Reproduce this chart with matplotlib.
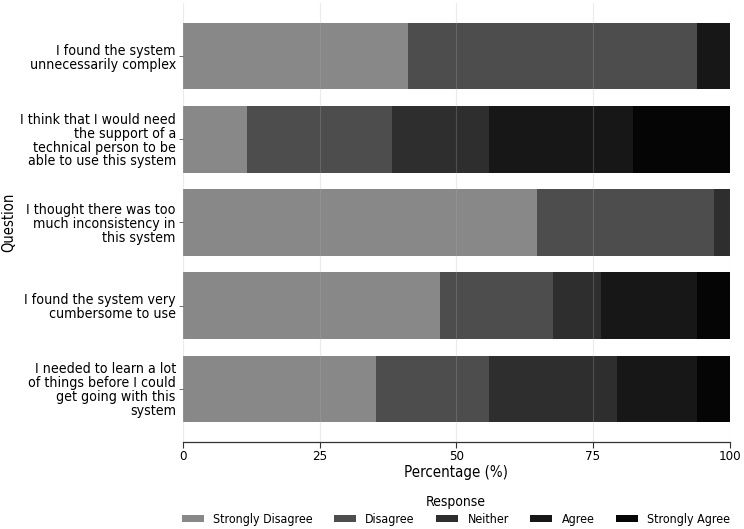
import matplotlib
matplotlib.use("Agg")
import matplotlib.pyplot as plt
import numpy as np

plt.rcParams['font.family'] = ['DejaVu Sans']
plt.rcParams['font.stretch'] = 'condensed'

questions = [
    "I found the system\nunnecessarily complex",
    "I think that I would need\nthe support of a\ntechnical person to be\nable to use this system",
    "I thought there was too\nmuch inconsistency in\nthis system",
    "I found the system very\ncumbersome to use",
    "I needed to learn a lot\nof things before I could\nget going with this\nsystem",
]
responses = ["Strongly Disagree", "Disagree", "Neither", "Agree", "Strongly Agree"]
colors = ["#888888", "#4d4d4d", "#2e2e2e", "#171717", "#050505"]

strongly_disagree = [41.2, 11.8, 64.7, 47.1, 35.3]
disagree = [52.9, 26.5, 32.4, 20.6, 20.6]
neither = [0.0, 17.6, 2.9, 8.8, 23.5]
agree = [5.9, 26.5, 0.0, 17.6, 14.7]
strongly_agree = [0.0, 17.6, 0.0, 5.9, 5.9]
series = [strongly_disagree, disagree, neither, agree, strongly_agree]

xticks = [0, 25, 50, 75, 100]

fig = plt.figure(figsize=(7.44, 5.29), dpi=100)
ax = fig.add_axes([0.2457, 0.1645, 0.7351, 0.8298])

y = np.arange(len(questions))
left = np.zeros(len(questions))
for name, vals, c in zip(responses, series, colors):
    vals = np.array(vals)
    ax.barh(y, vals, left=left, height=0.8, color=c, label=name, zorder=1)
    left = left + vals

ax.set_xlim(0, 100)
ax.invert_yaxis()
ax.set_yticks(y)
ax.set_yticklabels(questions, fontsize=10.2, linespacing=0.98)
ax.set_xticks(xticks)
ax.set_xticklabels([str(t) for t in xticks], fontsize=9.5)
ax.tick_params(axis='y', length=3, width=0.6, color='#555555', pad=2)
ax.tick_params(axis='x', length=4, width=0.8, color='#333333', pad=1.5)
ax.xaxis.grid(True, color='#b0b0b0', alpha=0.25, linewidth=0.8, zorder=3)
ax.set_axisbelow(False)
for s in ['left', 'right', 'top']:
    ax.spines[s].set_visible(False)
ax.spines['bottom'].set_color('#333333')
ax.spines['bottom'].set_linewidth(0.9)

ax.set_xlabel("Percentage (%)", fontsize=10.8)
ax.xaxis.set_label_coords(0.5, -0.052)
ax.set_ylabel("Question", fontsize=10.5)
ax.yaxis.set_label_coords(-0.305, 0.5)

leg = fig.legend(*ax.get_legend_handles_labels(), loc='lower center',
                 bbox_to_anchor=(456 / 744, -0.013), ncol=5,
                 frameon=False, title="Response", fontsize=8.9, title_fontsize=10,
                 handlelength=1.75, handleheight=0.5, columnspacing=1.75,
                 handletextpad=0.76, borderpad=0.3, labelspacing=0.3)

fig.savefig("out.png", dpi=100)
